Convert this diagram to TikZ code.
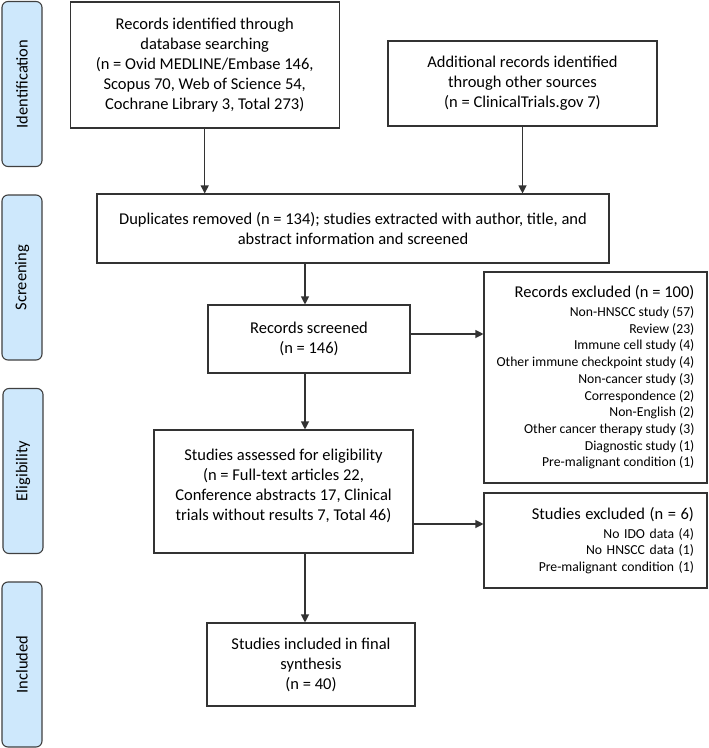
\documentclass[tikz,border=0pt]{standalone}
\usepackage{fontspec}
\setmainfont{Carlito}
\usetikzlibrary{arrows.meta}
\definecolor{stageblue}{RGB}{206,232,252}

\begin{document}
\begin{tikzpicture}
    [
        x = 1bp, y = -1bp,
        font = \fontsize{16.5bp}{20bp}\selectfont,
        box/.style = {draw = black!80, line width = 1.1bp, align = center, inner sep = 0pt},
        excl/.style = {box, align = right, font = \fontsize{13.7bp}{16.7bp}\selectfont},
        stage/.style = {draw = black!75, line width = 1.1bp, fill = stageblue, rounded corners = 6bp,
            rotate = 90, minimum width = 165bp, minimum height = 40bp, inner sep = 0pt},
        arr/.style = {draw = black!80, line width = 1.1bp, -{Triangle[length = 8bp, width = 8bp]}}
    ]

        \path[fill = white] (0,0) rectangle (709,748);

        \node[stage] (sid) at (22, 84) {Identification};
        \node[stage] (sscr) at (22, 277.5) {Screening};
        \node[stage] (selig) at (23, 471) {Eligibility};
        \node[stage] (sinc) at (22, 664.5) {Included};

        \node[box, minimum width = 269bp, minimum height = 126bp] (db) at (204.7, 65)
            {Records identified through\\ database searching\\ (n = Ovid MEDLINE/Embase 146,\\
             Scopus 70, Web of Science 54,\\ Cochrane Library 3, Total 273)};
        \node[box, minimum width = 269bp, minimum height = 85bp] (other) at (522.5, 83.5)
            {Additional records identified\\ through other sources\\ (n = ClinicalTrials.gov 7)};
        \node[box, minimum width = 512bp, minimum height = 69bp] (dup) at (353, 228.5)
            {Duplicates removed (n = 134); studies extracted with author, title, and\\
             abstract information and screened};
        \node[box, minimum width = 202bp, minimum height = 68bp] (screen) at (309, 339)
            {Records screened\\ (n = 146)};
        \node[excl, minimum width = 223bp, minimum height = 211bp] (recex) at (595.5, 377.5)
            {{\fontsize{16.5bp}{20bp}\selectfont Records excluded (n = 100)}\\[2bp]
             Non-HNSCC study (57)\\
             Review (23)\\
             Immune cell study (4)\\
             Other immune checkpoint study (4)\\
             Non-cancer study (3)\\
             Correspondence (2)\\
             Non-English (2)\\
             Other cancer therapy study (3)\\
             Diagnostic study (1)\\
             Pre-malignant condition (1)};
        \node[box, minimum width = 259bp, minimum height = 123bp] (elig) at (283.5, 491.5)
            {Studies assessed for eligibility\\ (n = Full-text articles 22,\\
             Conference abstracts 17, Clinical\\ trials without results 7, Total 46)\\[-6bp]\mbox{}};
        \node[excl, text width = 197bp, minimum width = 223bp, minimum height = 95bp] (stex) at (595.5, 540.5)
            {{\fontsize{16.5bp}{20bp}\selectfont Studies excluded (n = 6)}\\[2bp]
             No IDO data (4)\\
             No HNSCC data (1)\\
             Pre-malignant condition (1)};
        \node[box, minimum width = 208bp, minimum height = 83bp] (incl) at (311, 664.5)
            {Studies included in final\\ synthesis\\ (n = 40)};

        \coordinate (spine) at (305, 0);

        \draw[arr] (db.south) -- (db.south |- dup.north);
        \draw[arr] (other.south) -- (other.south |- dup.north);
        \draw[arr] (spine |- dup.south) -- (spine |- screen.north);
        \draw[arr] (spine |- screen.south) -- (spine |- elig.north);
        \draw[arr] (spine |- elig.south) -- (spine |- incl.north);
        \draw[arr] ([yshift = 5bp]screen.east) -- ([yshift = 5bp]screen.east -| recex.west);
        \draw[arr] ([yshift = -32.5bp]elig.east) -- ([yshift = -32.5bp]elig.east -| stex.west);
    \end{tikzpicture}
\end{document}
